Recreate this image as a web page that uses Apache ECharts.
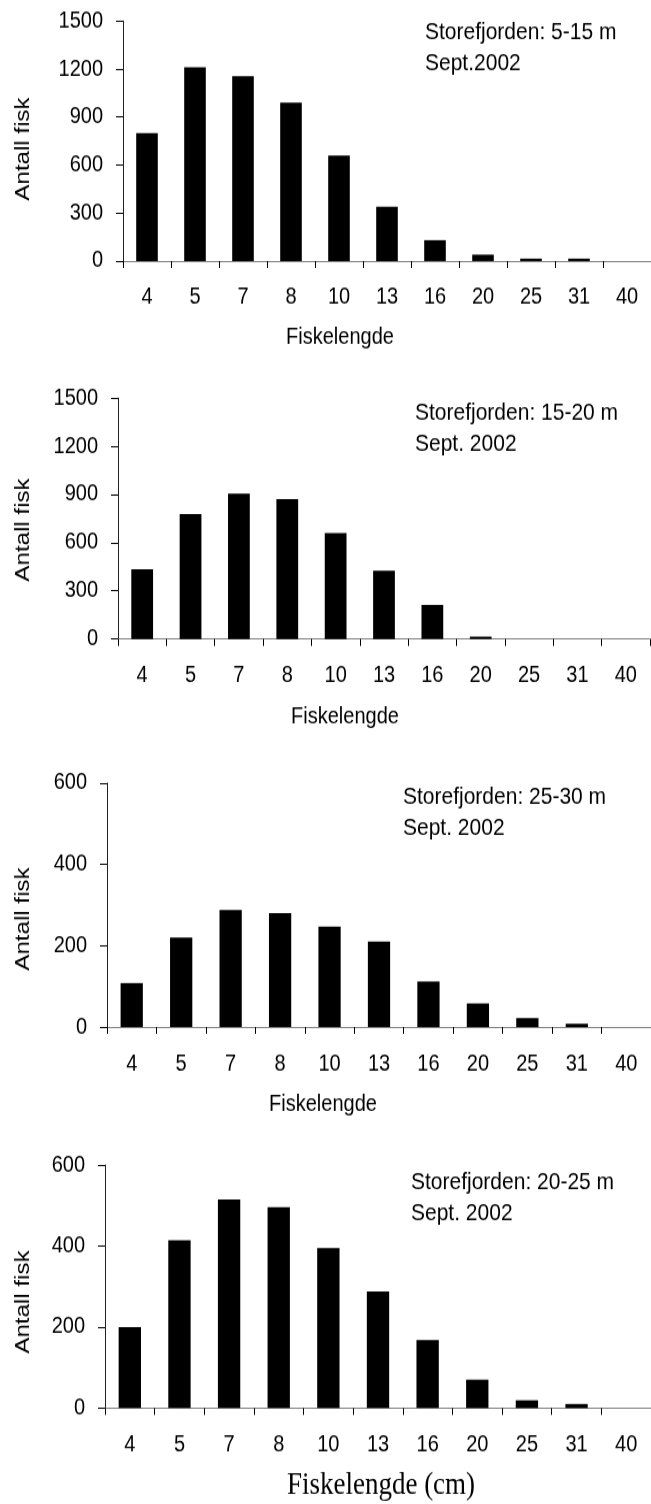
<!DOCTYPE html>
<html>
<head>
<meta charset="utf-8">
<title>Storefjorden Sept. 2002 – lengdefordeling</title>
<script src="https://cdn.jsdelivr.net/npm/echarts@6/dist/echarts.min.js"></script>
<style>
  html, body { margin: 0; padding: 0; background: #fff; }
  #wrap { width: 651px; height: 1504px; overflow: hidden; position: relative; }
  #chart { width: 651px; transform-origin: 0 0; }
</style>
</head>
<body>
<div id="wrap"><div id="chart"></div></div>
<script>
// Length classes (cm) on the x axis
const sizeClasses = ['4', '5', '7', '8', '10', '13', '16', '20', '25', '31', '40'];

// Number of fish per length class, one array per depth interval
const depth5to15 = [800, 1210, 1155, 990, 660, 340, 130, 40, 15, 15, 0];
const depth15to20 = [435, 777, 905, 870, 660, 425, 212, 15, 0, 0, 0];
const depth25to30 = [108, 220, 288, 280, 247, 210, 112, 58, 22, 8, 0];
const depth20to25 = [200, 414, 515, 496, 395, 288, 168, 70, 19, 10, 0];

// Y axis scales
const yMaxShallow = 1500, yStepShallow = 300;
const yMaxDeep = 600, yStepDeep = 200;

// Panel captions
const captions = [
  ['Storefjorden: 5-15 m', 'Sept.2002'],
  ['Storefjorden: 15-20 m', 'Sept. 2002'],
  ['Storefjorden: 25-30 m', 'Sept. 2002'],
  ['Storefjorden: 20-25 m', 'Sept. 2002']
];
const yName = 'Antall fisk';
const xName = 'Fiskelengde';
const xNameLast = 'Fiskelengde (cm)';

const panels = [
  { data: depth5to15, max: yMaxShallow, step: yStepShallow },
  { data: depth15to20, max: yMaxShallow, step: yStepShallow },
  { data: depth25to30, max: yMaxDeep, step: yStepDeep },
  { data: depth20to25, max: yMaxDeep, step: yStepDeep }
];

// The figure is drawn with a slight vertical stretch (tall, condensed lettering);
// layout values below are page pixels and are divided by this factor.
const STRETCH = 1.15;
const PAGE_H = 1504;

// Layout of the four stacked panels (page pixels)
const layout = [
  { left: 123, top: 21, width: 534, height: 240, capX: 425, capY: 32, xNameX: 340, xNameY: 338, yNameY: 149 },
  { left: 118, top: 398, width: 532, height: 241, capX: 415, capY: 413, xNameX: 345, xNameY: 717, yNameY: 530 },
  { left: 107, top: 783, width: 549, height: 244, capX: 403, capY: 797, xNameX: 323, xNameY: 1105, yNameY: 919 },
  { left: 105, top: 1165, width: 548, height: 243, capX: 411, capY: 1182, xNameX: 381, xNameY: 1486, yNameY: 1302 }
];
const captionLineGap = 31;

const font = '"Liberation Sans", Arial, sans-serif';
const serif = '"Liberation Serif", "Times New Roman", serif';
const textColor = '#000';
const v = (y) => y / STRETCH;

const grids = [], xAxes = [], yAxes = [], series = [], graphics = [];

panels.forEach((p, i) => {
  const L = layout[i];
  grids.push({ left: L.left, top: v(L.top), width: L.width, height: v(L.height), containLabel: false });
  xAxes.push({
    type: 'category',
    gridIndex: i,
    data: sizeClasses,
    boundaryGap: true,
    axisLine: { show: true, lineStyle: { color: '#808080', width: 1 } },
    axisTick: { show: true, alignWithLabel: false, length: 6, lineStyle: { color: '#000', width: 1 } },
    axisLabel: { color: textColor, fontFamily: font, fontSize: 20, margin: 22, interval: 0 },
    splitLine: { show: false }
  });
  yAxes.push({
    type: 'value',
    gridIndex: i,
    min: 0,
    max: p.max,
    interval: p.step,
    axisLine: { show: true, lineStyle: { color: '#222', width: 1 } },
    axisTick: { show: true, length: 7, lineStyle: { color: '#000', width: 1 } },
    axisLabel: { color: textColor, fontFamily: font, fontSize: 20, margin: 20, formatter: (val) => String(val) },
    splitLine: { show: false }
  });
  series.push({
    type: 'bar',
    xAxisIndex: i,
    yAxisIndex: i,
    data: p.data,
    barWidth: '45%',
    itemStyle: { color: '#000' },
    silent: true,
    animation: false
  });

  // Caption in the upper right of the panel
  const lh = v(captionLineGap);
  graphics.push({
    type: 'text',
    x: L.capX,
    y: v(L.capY) - lh / 2,
    style: {
      text: captions[i][0] + '\n' + captions[i][1],
      fill: textColor,
      font: '21px ' + font,
      lineHeight: lh,
      verticalAlign: 'top'
    }
  });

  // Vertical axis title
  graphics.push({
    type: 'text',
    x: 23,
    y: v(L.yNameY),
    rotation: Math.PI / 2,
    style: {
      text: yName,
      fill: textColor,
      font: '21px ' + font,
      align: 'center',
      verticalAlign: 'middle'
    }
  });

  // Horizontal axis title
  const last = i === panels.length - 1;
  graphics.push({
    type: 'text',
    x: L.xNameX,
    y: v(L.xNameY),
    style: {
      text: last ? xNameLast : xName,
      fill: textColor,
      font: last ? '27px ' + serif : '20px ' + font,
      align: 'center',
      verticalAlign: 'middle'
    }
  });
});

const el = document.getElementById('chart');
el.style.height = (PAGE_H / STRETCH) + 'px';
el.style.transform = 'scaleY(' + STRETCH + ')';

const chart = echarts.init(el, null, { renderer: 'canvas' });
chart.setOption({
  animation: false,
  backgroundColor: '#fff',
  grid: grids,
  xAxis: xAxes,
  yAxis: yAxes,
  series: series,
  graphic: graphics
});
</script>
</body>
</html>
